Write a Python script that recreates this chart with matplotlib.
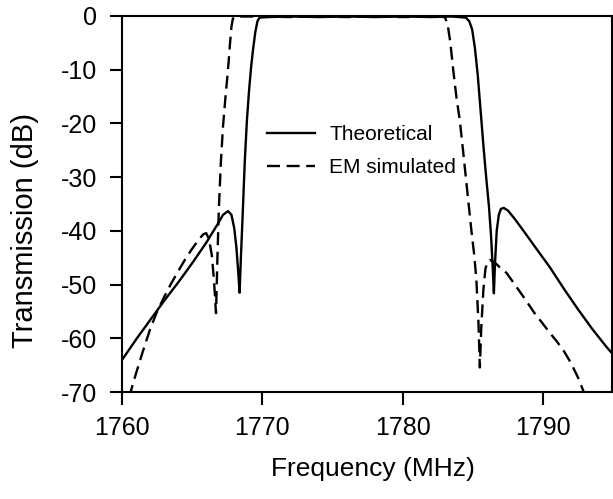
import numpy as np
import matplotlib as mpl
import matplotlib.pyplot as plt

mpl.rcParams['font.family'] = ['Liberation Sans', 'DejaVu Sans']
mpl.rcParams['axes.unicode_minus'] = False

# Theoretical response
theo_f = [1760.0, 1761.0, 1762.0, 1763.0, 1764.0, 1765.0, 1766.0, 1766.8, 1767.2,
          1767.55, 1767.8, 1768.0, 1768.15, 1768.28, 1768.38, 1768.48, 1768.6,
          1768.75, 1768.9, 1769.05, 1769.2, 1769.35, 1769.5, 1769.65, 1769.8,
          1770.5, 1772.0, 1774.0, 1776.0, 1778.0, 1780.0, 1782.0, 1783.5, 1784.5,
          1784.75, 1784.95, 1785.15, 1785.35, 1785.55, 1785.75, 1785.95, 1786.15,
          1786.3, 1786.42, 1786.5, 1786.58, 1786.7, 1786.85, 1787.0, 1787.2,
          1787.5, 1788.0, 1788.7, 1789.5, 1790.5, 1791.5, 1792.5, 1793.5, 1794.5,
          1795.0]
theo_db = [-64.0, -60.2, -56.6, -53.0, -49.6, -46.0, -42.2, -38.8, -37.0,
           -36.3, -37.0, -39.5, -43.0, -47.5, -51.5, -44.5, -37.0,
           -27.0, -19.5, -14.0, -9.5, -6.0, -3.0, -1.0, -0.3,
           -0.2, -0.1, -0.2, -0.1, -0.2, -0.1, -0.2, -0.1, -0.3,
           -1.0, -2.5, -6.0, -11.0, -17.5, -24.0, -30.0, -35.5,
           -41.0, -47.0, -51.6, -46.0, -40.0, -37.0, -35.9, -35.7,
           -36.2, -37.8, -40.3, -43.2, -46.8, -50.8, -54.6, -58.2, -61.5,
           -63.0]

# EM simulated response
em_f = [1760.5, 1761.0, 1761.5, 1762.0, 1762.5, 1763.0, 1763.5, 1764.0, 1764.5,
        1765.0, 1765.5, 1765.8, 1766.0, 1766.2, 1766.4, 1766.55, 1766.7, 1766.8,
        1766.9, 1767.05, 1767.2, 1767.36, 1767.5, 1767.6, 1767.7, 1767.8, 1767.9,
        1768.1, 1770.0, 1772.0, 1774.0, 1776.0, 1778.0, 1780.0, 1782.0, 1783.0,
        1783.2, 1783.4, 1783.6, 1783.85, 1784.07, 1784.3, 1784.5, 1784.7, 1784.9,
        1785.1, 1785.25, 1785.4, 1785.5, 1785.6, 1785.75, 1785.9, 1786.05, 1786.2,
        1786.4, 1786.7, 1787.0, 1787.4, 1788.0, 1788.7, 1789.4, 1790.0, 1790.5,
        1791.0, 1791.5, 1792.0, 1792.5, 1793.0]
em_db = [-71.0, -66.5, -62.3, -58.3, -55.0, -52.3, -49.8, -47.5, -45.3,
         -43.3, -41.5, -40.6, -40.4, -41.5, -44.5, -49.0, -55.3, -45.0,
         -36.0, -27.0, -20.5, -15.5, -11.5, -8.5, -5.0, -2.0, -0.5,
         -0.1, -0.1, -0.2, -0.1, -0.2, -0.1, -0.2, -0.1, -0.2,
         -1.5, -5.0, -10.0, -15.5, -19.4, -25.0, -30.0, -35.0, -40.0,
         -44.5, -49.0, -57.0, -65.4, -58.0, -51.0, -47.0, -45.7, -45.4,
         -45.6, -46.2, -47.0, -47.8, -50.0, -52.6, -55.3, -57.3, -59.0,
         -60.6, -62.4, -64.6, -67.3, -70.6]

xticks = [1760, 1770, 1780, 1790]
yticks = [0, -10, -20, -30, -40, -50, -60, -70]

fig = plt.figure(figsize=(6.13, 4.99), dpi=100)
ax = fig.add_axes([0.199, 0.214, 0.799, 0.754])

l0, = ax.plot(theo_f, theo_db, color='black', lw=1.7)
l1, = ax.plot(em_f, em_db, color='black', lw=1.7, linestyle=(0, (5.5, 2.8)))

ax.set_xlim(1760, 1794.9)
ax.set_ylim(-70, 0)
ax.set_xticks(xticks)
ax.set_yticks(yticks)
ax.tick_params(direction='out', length=9, width=1.5, labelsize=18)
ax.tick_params(axis='x', pad=8)
ax.tick_params(axis='y', pad=9)
for s in ax.spines.values():
    s.set_linewidth(1.5)

ax.set_xlabel("Frequency (MHz)", fontsize=19)
ax.xaxis.set_label_coords(0.513, -0.172)
ax.set_ylabel("Transmission (dB)", fontsize=21)
ax.yaxis.set_label_coords(-0.17, 0.43)

ax.legend([l0, l1], ["Theoretical", "EM simulated"], loc="upper left",
          bbox_to_anchor=(0.274, 0.737), frameon=False, fontsize=15,
          handlelength=2.3, handletextpad=0.7, borderpad=0, labelspacing=0.65)

plt.savefig("out.png", dpi=100)
